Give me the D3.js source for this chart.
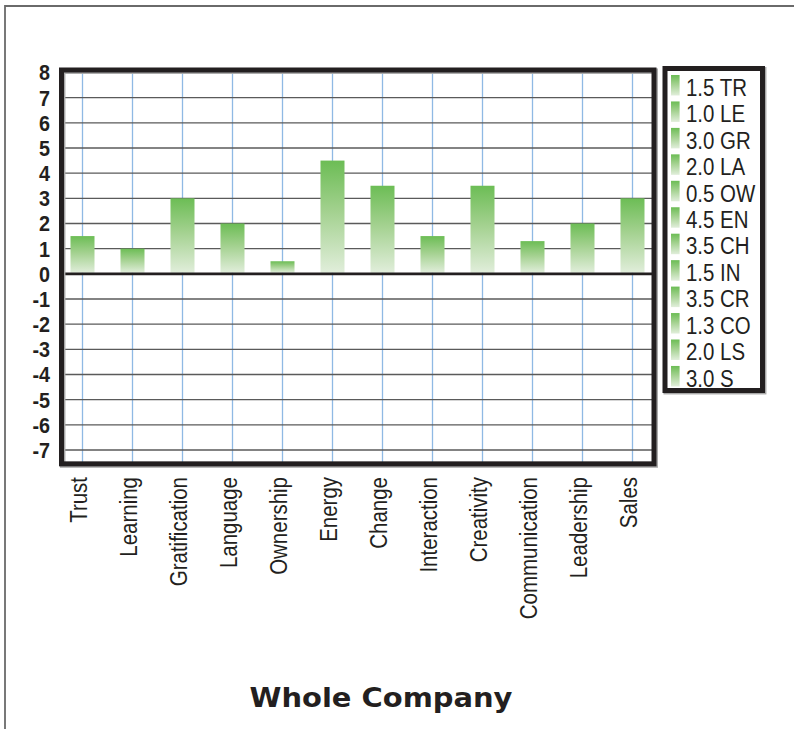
<!DOCTYPE html>
<html>
<head>
<meta charset="utf-8">
<script src="https://cdn.jsdelivr.net/npm/d3@7/dist/d3.min.js"></script>
<style>
  html, body { margin: 0; padding: 0; background: #fff; }
  svg { display: block; }
</style>
</head>
<body>
<div id="chart"></div>
<script>
// ---- data ----
const categories = ["Trust", "Learning", "Gratification", "Language", "Ownership", "Energy",
                    "Change", "Interaction", "Creativity", "Communication", "Leadership", "Sales"];
const values = [1.5, 1.0, 3.0, 2.0, 0.5, 4.5, 3.5, 1.5, 3.5, 1.3, 2.0, 3.0];
const abbreviations = ["TR", "LE", "GR", "LA", "OW", "EN", "CH", "IN", "CR", "CO", "LS", "S"];
const yTicks = [8, 7, 6, 5, 4, 3, 2, 1, 0, -1, -2, -3, -4, -5, -6, -7];
const title = "Whole Company";

// ---- layout ----
const W = 794, H = 729;
const ink = "#231f20";
const svg = d3.select("#chart").append("svg").attr("width", W).attr("height", H);

const defs = svg.append("defs");
const grad = defs.append("linearGradient").attr("id", "barGrad")
  .attr("x1", 0).attr("y1", 0).attr("x2", 0).attr("y2", 1);
grad.append("stop").attr("offset", "0%").attr("stop-color", "#6cbd55");
grad.append("stop").attr("offset", "45%").attr("stop-color", "#a3d18f");
grad.append("stop").attr("offset", "100%").attr("stop-color", "#e1eedb");

// outer page frame (top and left)
svg.append("path").attr("d", `M5,${H} V6 H${W}`)
  .attr("fill", "none").attr("stroke", "#6a6a6a").attr("stroke-width", 1.8);

const y = d3.scaleLinear().domain([-7, 8]).range([450, 72.5]);
const x = d3.scalePoint().domain(categories).range([82.5, 632.5]);

const frameL = 61.5, frameR = 654, frameT = y(8) - 2.5, frameB = y(-7.55);
const barW = 24;

// vertical blue grid lines
svg.append("g").selectAll("line").data(categories).join("line")
  .attr("x1", d => x(d)).attr("x2", d => x(d))
  .attr("y1", frameT).attr("y2", frameB)
  .attr("stroke", "#8fb9e4").attr("stroke-width", 1.3);

// horizontal grid lines
svg.append("g").selectAll("line").data(yTicks.filter(t => t !== 8 && t !== 0)).join("line")
  .attr("x1", frameL).attr("x2", frameR)
  .attr("y1", d => y(d)).attr("y2", d => y(d))
  .attr("stroke", "#5a5a5a").attr("stroke-width", 1.3);

// bars
svg.append("g").selectAll("rect").data(values).join("rect")
  .attr("x", (d, i) => x(categories[i]) - barW / 2)
  .attr("width", barW)
  .attr("y", d => y(d))
  .attr("height", d => y(0) - y(d) - 1)
  .attr("fill", "url(#barGrad)");

// zero line
svg.append("line")
  .attr("x1", frameL).attr("x2", frameR)
  .attr("y1", y(0)).attr("y2", y(0))
  .attr("stroke", ink).attr("stroke-width", 2.6);

// plot frame with light shadow
svg.append("rect")
  .attr("x", frameL + 1.2).attr("y", frameT + 1.2)
  .attr("width", frameR - frameL).attr("height", frameB - frameT)
  .attr("fill", "none").attr("stroke", "#a8a8a8").attr("stroke-width", 5.5);
svg.append("rect")
  .attr("x", frameL).attr("y", frameT)
  .attr("width", frameR - frameL).attr("height", frameB - frameT)
  .attr("fill", "none").attr("stroke", ink).attr("stroke-width", 5);

// y tick labels
svg.append("g").selectAll("text").data(yTicks).join("text")
  .attr("transform", d => `translate(50,${y(d)}) scale(0.9,1)`)
  .attr("dy", "0.36em")
  .attr("text-anchor", "end")
  .attr("font-family", "'Liberation Sans', Arial, sans-serif")
  .attr("font-weight", "bold")
  .attr("font-size", 22)
  .attr("fill", ink)
  .text(d => d);

// x labels (rotated)
svg.append("g").selectAll("text").data(categories).join("text")
  .attr("transform", d => `translate(${x(d) + 4.5},477) rotate(-90) scale(0.89,1)`)
  .attr("text-anchor", "end")
  .attr("font-family", "'Liberation Sans', Arial, sans-serif")
  .attr("font-size", 23)
  .attr("fill", ink)
  .text(d => d);

// legend
const legX = 665, legY = 68.5, legW = 97.5, legH = 322;
svg.append("rect")
  .attr("x", legX + 1.2).attr("y", legY + 1.2).attr("width", legW).attr("height", legH)
  .attr("fill", "none").attr("stroke", "#a8a8a8").attr("stroke-width", 5.5);
svg.append("rect")
  .attr("x", legX).attr("y", legY).attr("width", legW).attr("height", legH)
  .attr("fill", "#fff").attr("stroke", ink).attr("stroke-width", 5);

const legRows = svg.append("g").selectAll("g").data(values).join("g")
  .attr("transform", (d, i) => `translate(0,${95.7 + i * 26.45})`);
legRows.append("rect")
  .attr("x", 671).attr("y", -20.7).attr("width", 8.6).attr("height", 20.5)
  .attr("fill", "url(#barGrad)");
legRows.append("text")
  .attr("transform", "translate(686,0) scale(0.87,1)")
  .attr("font-family", "'Liberation Sans', Arial, sans-serif")
  .attr("font-size", 23.5)
  .attr("fill", ink)
  .text((d, i) => d.toFixed(1) + " " + abbreviations[i]);

// title
svg.append("text")
  .attr("x", 381).attr("y", 707)
  .attr("text-anchor", "middle")
  .attr("font-family", "'DejaVu Sans', Verdana, sans-serif")
  .attr("font-weight", "bold")
  .attr("font-size", 26)
  .attr("textLength", 263)
  .attr("lengthAdjust", "spacingAndGlyphs")
  .attr("fill", ink)
  .text(title);
</script>
</body>
</html>
